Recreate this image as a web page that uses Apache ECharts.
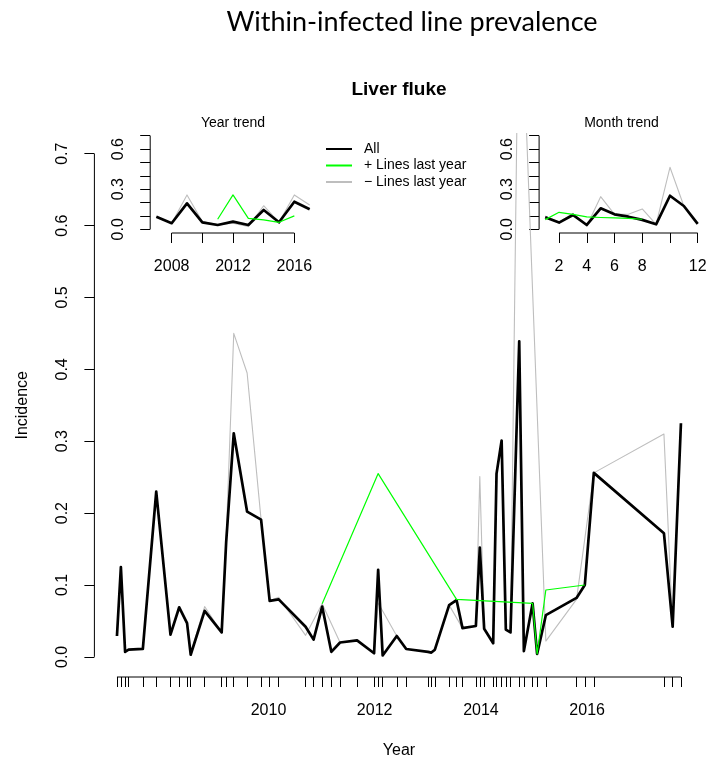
<!DOCTYPE html>
<html>
<head>
<meta charset="utf-8">
<script src="https://cdn.jsdelivr.net/npm/echarts@6/dist/echarts.min.js"></script>
<style>
  html, body { margin: 0; padding: 0; background: #fff; }
  #chart { width: 711px; height: 762px; }
</style>
</head>
<body>
<div id="chart"></div>
<script>
// ---- Sampling dates and incidence (main panel) ----
const sampleDates = [
  '2007-02-24','2007-03-23','2007-04-21','2007-05-15','2007-08-21','2007-11-21',
  '2008-02-27','2008-04-27','2008-06-20','2008-07-15','2008-10-19',
  '2009-02-13','2009-03-16','2009-05-07','2009-08-07','2009-11-11',
  '2010-01-09','2010-03-12','2010-09-13','2010-11-07',
  '2011-01-05','2011-03-09','2011-05-08','2011-09-02','2011-12-28',
  '2012-01-25','2012-02-25','2012-06-01','2012-08-05',
  '2013-01-02','2013-01-25','2013-02-18','2013-05-27','2013-07-17','2013-08-27','2013-11-27','2013-12-24',
  '2014-01-23','2014-03-26','2014-04-18','2014-05-23','2014-06-21','2014-07-23','2014-09-21','2014-10-23','2014-12-22',
  '2015-01-22','2015-03-23','2015-10-20','2015-12-16',
  '2016-02-16',
  '2017-06-12','2017-08-11','2017-10-07'
];
const allIncidence = [
  0.029,0.125,0.007,0.010,0.011,0.230,
  0.031,0.069,0.047,0.003,0.064,
  0.034,0.160,0.311,0.202,0.191,
  0.078,0.080,0.042,0.024,
  0.070,0.007,0.020,0.023,0.005,
  0.121,0.002,0.029,0.011,
  0.007,0.006,0.010,0.072,0.079,0.040,0.043,0.152,
  0.039,0.019,0.255,0.301,0.038,0.034,0.439,0.008,0.0745,
  0.004,0.058,0.082,0.100,
  0.256,
  0.172,0.042,0.325
];
const plusIncidence = [
  null,null,null,null,null,null,
  null,null,null,null,null,
  null,null,null,null,null,
  null,null,null,null,
  0.074,null,null,null,null,
  0.255,null,null,null,
  null,null,null,null,0.080,null,null,null,
  null,null,null,null,null,null,null,null,0.0745,
  0.004,0.093,null,0.100,
  null,
  null,null,null
];
const minusIncidence = [
  0.029,0.125,0.007,0.010,0.011,0.230,
  0.031,0.068,0.045,0.005,0.070,
  0.034,0.165,0.450,0.395,0.191,
  0.078,0.083,0.030,null,
  0.074,null,0.020,0.023,0.005,
  0.075,null,0.029,0.011,
  0.007,0.006,0.010,0.072,null,0.040,0.043,0.251,
  0.039,0.019,0.255,0.301,0.038,0.034,1.000,null,null,
  null,0.022,0.080,null,
  0.256,
  0.310,0.042,0.325
];

// ---- Year trend inset ----
const trendYears = [2007,2008,2009,2010,2011,2012,2013,2014,2015,2016,2017];
const yearAll   = [0.094,0.045,0.194,0.052,0.032,0.057,0.032,0.144,0.052,0.206,0.150];
const yearPlus  = [null,null,null,null,0.075,0.257,0.082,0.070,0.052,0.100,null];
const yearMinus = [0.094,0.045,0.257,0.057,0.035,0.045,0.020,0.176,0.052,0.257,0.182];

// ---- Month trend inset ----
const trendMonths = [1,2,3,4,5,6,7,8,9,10,11,12];
const monthAll   = [0.090,0.050,0.107,0.032,0.157,0.112,0.094,0.070,0.037,0.251,0.174,0.040];
const monthPlus  = [0.072,0.127,0.112,0.093,0.088,0.085,0.082,0.075,null,null,null,null];
const monthMinus = [0.100,0.052,0.119,0.025,0.244,0.112,0.112,0.152,0.037,0.464,0.174,0.040];

// ---- Axis marks ----
const incidenceTicks = [0,0.1,0.2,0.3,0.4,0.5,0.6,0.7];
const insetIncidenceLabels = [0,0.3,0.6];
const yearLabelMarks = [2010,2012,2014,2016];
const insetYearTicks = [2008,2010,2012,2014,2016];
const insetYearLabels = [2008,2012,2016];
const insetMonthTicks = [2,4,6,8,10,12];
const insetMonthLabels = [2,4,6,8,12];

const NAME_ALL = 'All';
const NAME_PLUS = '+ Lines last year';
const NAME_MINUS = '\u2212 Lines last year';

const FONT = '"Liberation Sans", Arial, sans-serif';
const BLACK = '#000000', GREEN = '#00FF00', GREY = '#BEBEBE';

const toTime = s => Date.UTC(+s.slice(0, 4), +s.slice(5, 7) - 1, +s.slice(8, 10));
const sampleTimes = sampleDates.map(toTime);
const pairs = (xs, ys) => xs.map((x, i) => [x, ys[i]]).filter(p => p[1] !== null);

// R-style 4% padding around the data range
const pad = (lo, hi) => [lo - 0.04 * (hi - lo), hi + 0.04 * (hi - lo)];
const [yMin, yMax] = pad(0, 0.7);
const [tMin, tMax] = pad(sampleTimes[0], sampleTimes[sampleTimes.length - 1]);
const [yrMin, yrMax] = pad(trendYears[0], trendYears[trendYears.length - 1]);
const [moMin, moMax] = pad(trendMonths[0], trendMonths[trendMonths.length - 1]);

function xAxisDef(grid, min, max, ticks, labels, fmt, extra) {
  return Object.assign({
    type: 'value', gridIndex: grid, min: min, max: max,
    axisLine: { show: false, onZero: false },
    splitLine: { show: false },
    axisTick: { show: true, customValues: ticks, length: 10, lineStyle: { color: BLACK, width: 1 } },
    axisLabel: { customValues: labels, formatter: fmt, color: BLACK, fontSize: 16, fontFamily: FONT, margin: 26 }
  }, extra || {});
}
function yAxisDef(grid, ticks, labels, extra, labelMargin) {
  return Object.assign({
    type: 'value', gridIndex: grid, min: yMin, max: yMax,
    axisLine: { show: false, onZero: false },
    splitLine: { show: false },
    axisTick: { show: true, customValues: ticks, length: 10, lineStyle: { color: BLACK, width: 1 } },
    axisLabel: { customValues: labels, rotate: 90, formatter: v => v.toFixed(1),
                 color: BLACK, fontSize: 16, fontFamily: FONT, margin: labelMargin }
  }, extra || {});
}

// straight axis line from first to last tick, drawn in data space
function axisRule(idx, pts) {
  return { type: 'line', xAxisIndex: idx, yAxisIndex: idx, data: pts, symbol: 'none',
           lineStyle: { color: BLACK, width: 1 }, clip: false, silent: true, z: 1, animation: false };
}
function trace(idx, name, xs, ys, color, width, z) {
  return { type: 'line', name: name, xAxisIndex: idx, yAxisIndex: idx, data: pairs(xs, ys),
           symbol: 'none', showSymbol: false, color: color,
           lineStyle: { color: color, width: width, join: 'round' }, clip: true, z: z };
}

const chart = echarts.init(document.getElementById('chart'), null, { renderer: 'canvas' });
chart.setOption({
  animation: false,
  backgroundColor: '#ffffff',
  title: [
    { text: 'Within-infected line prevalence', left: 412, top: 9, textAlign: 'center', padding: 0,
      textStyle: { fontFamily: 'Lato, sans-serif', fontWeight: 'normal', fontSize: 27, color: BLACK } },
    { text: 'Liver fluke', left: 399, top: 80, textAlign: 'center', padding: 0,
      textStyle: { fontFamily: FONT, fontWeight: 'bold', fontSize: 19, color: BLACK } },
    { text: 'Year trend', left: 233, top: 116, textAlign: 'center', padding: 0,
      textStyle: { fontFamily: FONT, fontWeight: 'normal', fontSize: 14, color: BLACK } },
    { text: 'Month trend', left: 621.5, top: 116, textAlign: 'center', padding: 0,
      textStyle: { fontFamily: FONT, fontWeight: 'normal', fontSize: 14, color: BLACK } }
  ],
  legend: {
    orient: 'vertical', left: 325, top: 142, padding: 0,
    itemWidth: 26, itemHeight: 14, itemGap: 2.5,
    data: [NAME_ALL, NAME_PLUS, NAME_MINUS],
    itemStyle: { color: 'transparent', borderColor: 'transparent', borderWidth: 0, opacity: 0 },
    textStyle: { fontFamily: FONT, fontSize: 14, color: BLACK, padding: [0, 0, 0, 7] }
  },
  grid: [
    { left: 94.4, top: 133.6, width: 609.1, height: 543.4, containLabel: false, outerBoundsMode: 'none' },
    { left: 150.2, top: 132, width: 165.6, height: 101, containLabel: false, outerBoundsMode: 'none' },
    { left: 539.1, top: 132, width: 164.7, height: 101, containLabel: false, outerBoundsMode: 'none' }
  ],
  xAxis: [
    xAxisDef(0, tMin, tMax, sampleTimes, yearLabelMarks.map(y => Date.UTC(y, 0, 1)),
             v => String(new Date(v).getUTCFullYear()),
             { name: 'Year', nameLocation: 'middle', nameGap: 66,
               nameTextStyle: { fontFamily: FONT, fontSize: 16, color: BLACK } }),
    xAxisDef(1, yrMin, yrMax, insetYearTicks, insetYearLabels, v => String(v)),
    xAxisDef(2, moMin, moMax, insetMonthTicks, insetMonthLabels, v => String(v))
  ],
  yAxis: [
    yAxisDef(0, incidenceTicks, incidenceTicks,
             { name: 'Incidence', nameLocation: 'middle', nameGap: 64, nameRotate: 90,
               nameTextStyle: { fontFamily: FONT, fontSize: 16, color: BLACK } }, 24),
    yAxisDef(1, incidenceTicks, insetIncidenceLabels, null, 24),
    yAxisDef(2, incidenceTicks, insetIncidenceLabels, null, 24)
  ],
  series: [
    axisRule(0, [[sampleTimes[0], yMin], [sampleTimes[sampleTimes.length - 1], yMin]]),
    axisRule(0, [[tMin, 0], [tMin, 0.7]]),
    axisRule(1, [[insetYearTicks[0], yMin], [insetYearTicks[insetYearTicks.length - 1], yMin]]),
    axisRule(1, [[yrMin, 0], [yrMin, 0.7]]),
    axisRule(2, [[insetMonthTicks[0], yMin], [insetMonthTicks[insetMonthTicks.length - 1], yMin]]),
    axisRule(2, [[moMin, 0], [moMin, 0.7]]),

    trace(0, NAME_MINUS, sampleTimes, minusIncidence, GREY, 1.1, 2),
    trace(0, NAME_ALL, sampleTimes, allIncidence, BLACK, 2.7, 3),
    trace(0, NAME_PLUS, sampleTimes, plusIncidence, GREEN, 1.2, 4),

    trace(1, NAME_MINUS, trendYears, yearMinus, GREY, 1.1, 2),
    trace(1, NAME_ALL, trendYears, yearAll, BLACK, 2.7, 3),
    trace(1, NAME_PLUS, trendYears, yearPlus, GREEN, 1.2, 4),

    trace(2, NAME_MINUS, trendMonths, monthMinus, GREY, 1.1, 2),
    trace(2, NAME_ALL, trendMonths, monthAll, BLACK, 2.7, 3),
    trace(2, NAME_PLUS, trendMonths, monthPlus, GREEN, 1.2, 4)
  ]
});
</script>
</body>
</html>
